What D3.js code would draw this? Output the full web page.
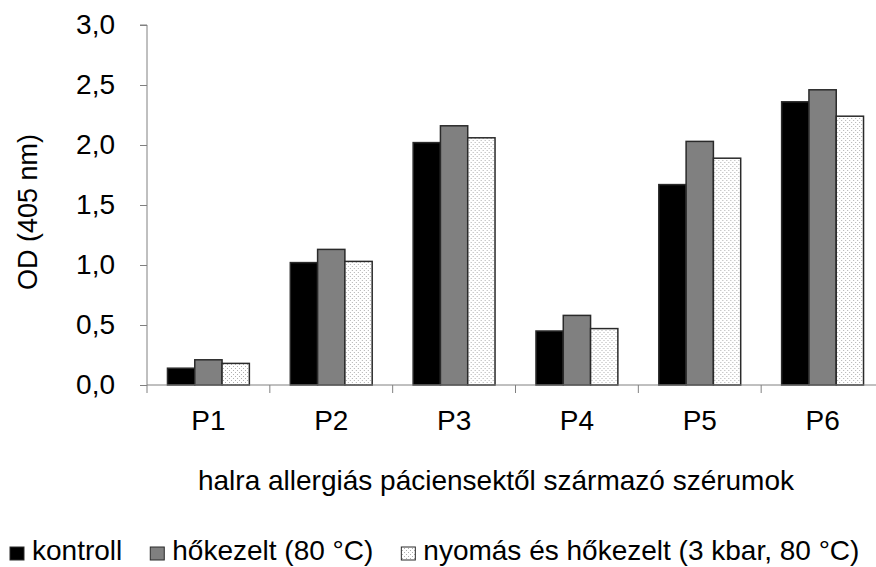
<!DOCTYPE html>
<html>
<head>
<meta charset="utf-8">
<script src="https://cdn.jsdelivr.net/npm/d3@7"></script>
<style>
  html, body { margin: 0; padding: 0; background: #fff; }
  svg text { font-family: "Liberation Sans", Arial, sans-serif; fill: #000; }
</style>
</head>
<body>
<svg id="chart" width="876" height="567"></svg>
<script>
// OD values per patient serum, three treatments
const categories = ["P1", "P2", "P3", "P4", "P5", "P6"];
const seriesNames = ["kontroll", "hőkezelt (80 °C)", "nyomás és hőkezelt (3 kbar, 80 °C)"];
const kontroll = [0.14, 1.02, 2.02, 0.45, 1.67, 2.36];
const hokezelt = [0.21, 1.13, 2.16, 0.58, 2.03, 2.46];
const nyomas   = [0.18, 1.03, 2.06, 0.47, 1.89, 2.24];
const yTicks = [0, 0.5, 1.0, 1.5, 2.0, 2.5, 3.0];
const xTitle = "halra allergiás páciensektől származó szérumok";
const yTitle = "OD (405 nm)";

const series = [kontroll, hokezelt, nyomas];
const svg = d3.select("#chart");
const FS = "28px";

// dotted fill for the third series
const defs = svg.append("defs");
const pat = defs.append("pattern")
  .attr("id", "dots").attr("patternUnits", "userSpaceOnUse")
  .attr("width", 4).attr("height", 4);
pat.append("rect").attr("width", 4).attr("height", 4).attr("fill", "#fff");
pat.append("rect").attr("x", 0).attr("y", 0).attr("width", 1).attr("height", 1).attr("fill", "#b0b0b0");
pat.append("rect").attr("x", 2).attr("y", 2).attr("width", 1).attr("height", 1).attr("fill", "#b0b0b0");

const fills = ["#000", "#808080", "url(#dots)"];

const plotLeft = 147, plotRight = 884, plotTop = 25, plotBottom = 385;

const x = d3.scaleBand().domain(categories).range([plotLeft, plotRight]).paddingInner(0).paddingOuter(0);
// gap of 1.5 bar widths between groups
const edge = x.bandwidth() * 0.75 / 4.5;
const xs = d3.scaleBand().domain(d3.range(series.length)).range([edge, x.bandwidth() - edge]);
const y = d3.scaleLinear().domain([0, 3]).range([plotBottom, plotTop]);

// bars
categories.forEach((c, i) => {
  const g = svg.append("g").attr("transform", `translate(${x(c)},0)`);
  series.forEach((s, j) => {
    g.append("rect")
      .attr("x", xs(j))
      .attr("y", y(s[i]))
      .attr("width", xs.bandwidth())
      .attr("height", y(0) - y(s[i]))
      .attr("fill", fills[j])
      .attr("stroke", "#2a2a2a")
      .attr("stroke-width", 1.5);
  });
});

// y axis
const yAxis = d3.axisLeft(y).tickValues(yTicks).tickSize(7).tickPadding(25)
  .tickFormat(d => d3.format(".1f")(d).replace(".", ","));
const gy = svg.append("g").attr("transform", `translate(${plotLeft},0)`).call(yAxis);
gy.select(".domain").attr("stroke", "#808080").attr("d", `M-7,${plotTop}H0V${plotBottom}`);
gy.selectAll(".tick line").attr("stroke", "#808080");
gy.selectAll(".tick text").style("font-size", FS).attr("fill", "#000");

// x axis: line plus ticks at category boundaries
const gx = svg.append("g").attr("transform", `translate(0,${plotBottom})`);
gx.append("line").attr("x1", plotLeft).attr("x2", plotRight).attr("y1", 0).attr("y2", 0).attr("stroke", "#808080");
const bounds = categories.map(c => x(c)).concat([plotRight]);
gx.selectAll("line.tk").data(bounds).join("line").attr("class", "tk")
  .attr("x1", d => d).attr("x2", d => d).attr("y1", 0).attr("y2", 8).attr("stroke", "#808080");
gx.selectAll("text.cat").data(categories).join("text").attr("class", "cat")
  .attr("x", d => x(d) + x.bandwidth() / 2).attr("y", 45)
  .attr("text-anchor", "middle").style("font-size", FS).text(d => d);

// axis titles
svg.append("text").attr("x", 496).attr("y", 490).attr("text-anchor", "middle")
  .style("font-size", FS).text(xTitle);
svg.append("text").attr("transform", "translate(37,212) rotate(-90)").attr("text-anchor", "middle")
  .style("font-size", "27px").text(yTitle);

// legend
const lg = svg.append("g").attr("transform", "translate(0,560)");
let lx = 10;
seriesNames.forEach((name, j) => {
  lg.append("rect").attr("x", lx).attr("y", -13).attr("width", 14).attr("height", 13)
    .attr("fill", fills[j]).attr("stroke", "#2a2a2a").attr("stroke-width", 1);
  const t = lg.append("text").attr("x", lx + 22).attr("y", 0).style("font-size", FS).text(name);
  lx += 22 + t.node().getComputedTextLength() + 28;
});
</script>
</body>
</html>
